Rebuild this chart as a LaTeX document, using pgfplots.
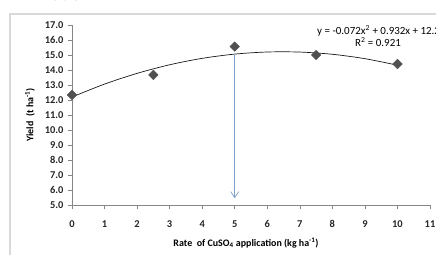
\documentclass[border=0pt]{standalone}
\usepackage{pgfplots}
\pgfplotsset{compat=1.18}
\usepackage{fontspec}
\setmainfont{Carlito}
\usetikzlibrary{arrows.meta}
\definecolor{axisgray}{RGB}{134,134,134}
\definecolor{framegray}{RGB}{217,217,217}
\definecolor{markgray}{RGB}{80,80,80}
\definecolor{arrowblue}{RGB}{125,160,200}
\begin{document}
\begin{tikzpicture}
\useasboundingbox (-72bp,-50bp) rectangle (364bp,205bp);
\draw[framegray, line width=1.5bp] (-62bp,-60bp) -- (-62bp,191bp) -- (380bp,191bp);
\node[anchor=base west, font=\fontsize{18}{20}\selectfont\bfseries, inner sep=0pt] at (-20bp,204bp) {ation};
\begin{axis}[
  at={(0,0)}, anchor=south west,
  scale only axis, width=358bp, height=180bp,
  xmin=0, xmax=11, ymin=5, ymax=17,
  axis lines*=left,
  axis line style={axisgray, line width=0.6bp},
  xtick={0,1,...,11}, ytick={5,6,...,17},
  tick style={axisgray, line width=0.6bp},
  tick align=outside, major tick length=4bp,
  yticklabel style={/pgf/number format/fixed, /pgf/number format/fixed zerofill, /pgf/number format/precision=1, xshift=-1bp},
  /pgf/number format/assume math mode=true,
  tick label style={font=\fontsize{10.5}{12}\selectfont\bfseries, text=black!85},
  xticklabel style={yshift=-8bp},
  clip=false,
]
\addplot[black!90, line width=0.7bp, smooth] coordinates {
 (0,12.2) (1,13.06) (2,13.776) (3,14.348) (4,14.776) (5,15.06) (6,15.2) (7,15.196) (8,15.048) (9,14.756) (10,14.32)};
\addplot[only marks, mark=square*, mark size=3.4bp, mark options={rotate=45, fill=markgray, draw=markgray}] coordinates {
 (0,12.33) (2.5,13.67) (5,15.56) (7.5,15.0) (10,14.4)};
\addplot[arrowblue, line width=0.7bp, -{Straight Barb[length=6bp,width=8bp]}] coordinates {(5,15.06) (5,5.45)};
\end{axis}
\node[anchor=west, font=\fontsize{11}{12}\selectfont, inner sep=0pt] at (245bp,174bp) {y = -0.072x\textsuperscript{2} + 0.932x + 12.24};
\node[font=\fontsize{11}{12}\selectfont, inner sep=0pt] at (306bp,163bp) {R\textsuperscript{2} = 0.921};
\node[rotate=90, font=\fontsize{10}{12}\selectfont\bfseries] at (-42bp,90bp) {Yield\ \ (t ha\textsuperscript{-1})};
\node[font=\fontsize{10}{12}\selectfont\bfseries] at (174bp,-38bp) {Rate\ \ of CuSO\textsubscript{4} application (kg ha\textsuperscript{-1})};
\end{tikzpicture}
\end{document}
